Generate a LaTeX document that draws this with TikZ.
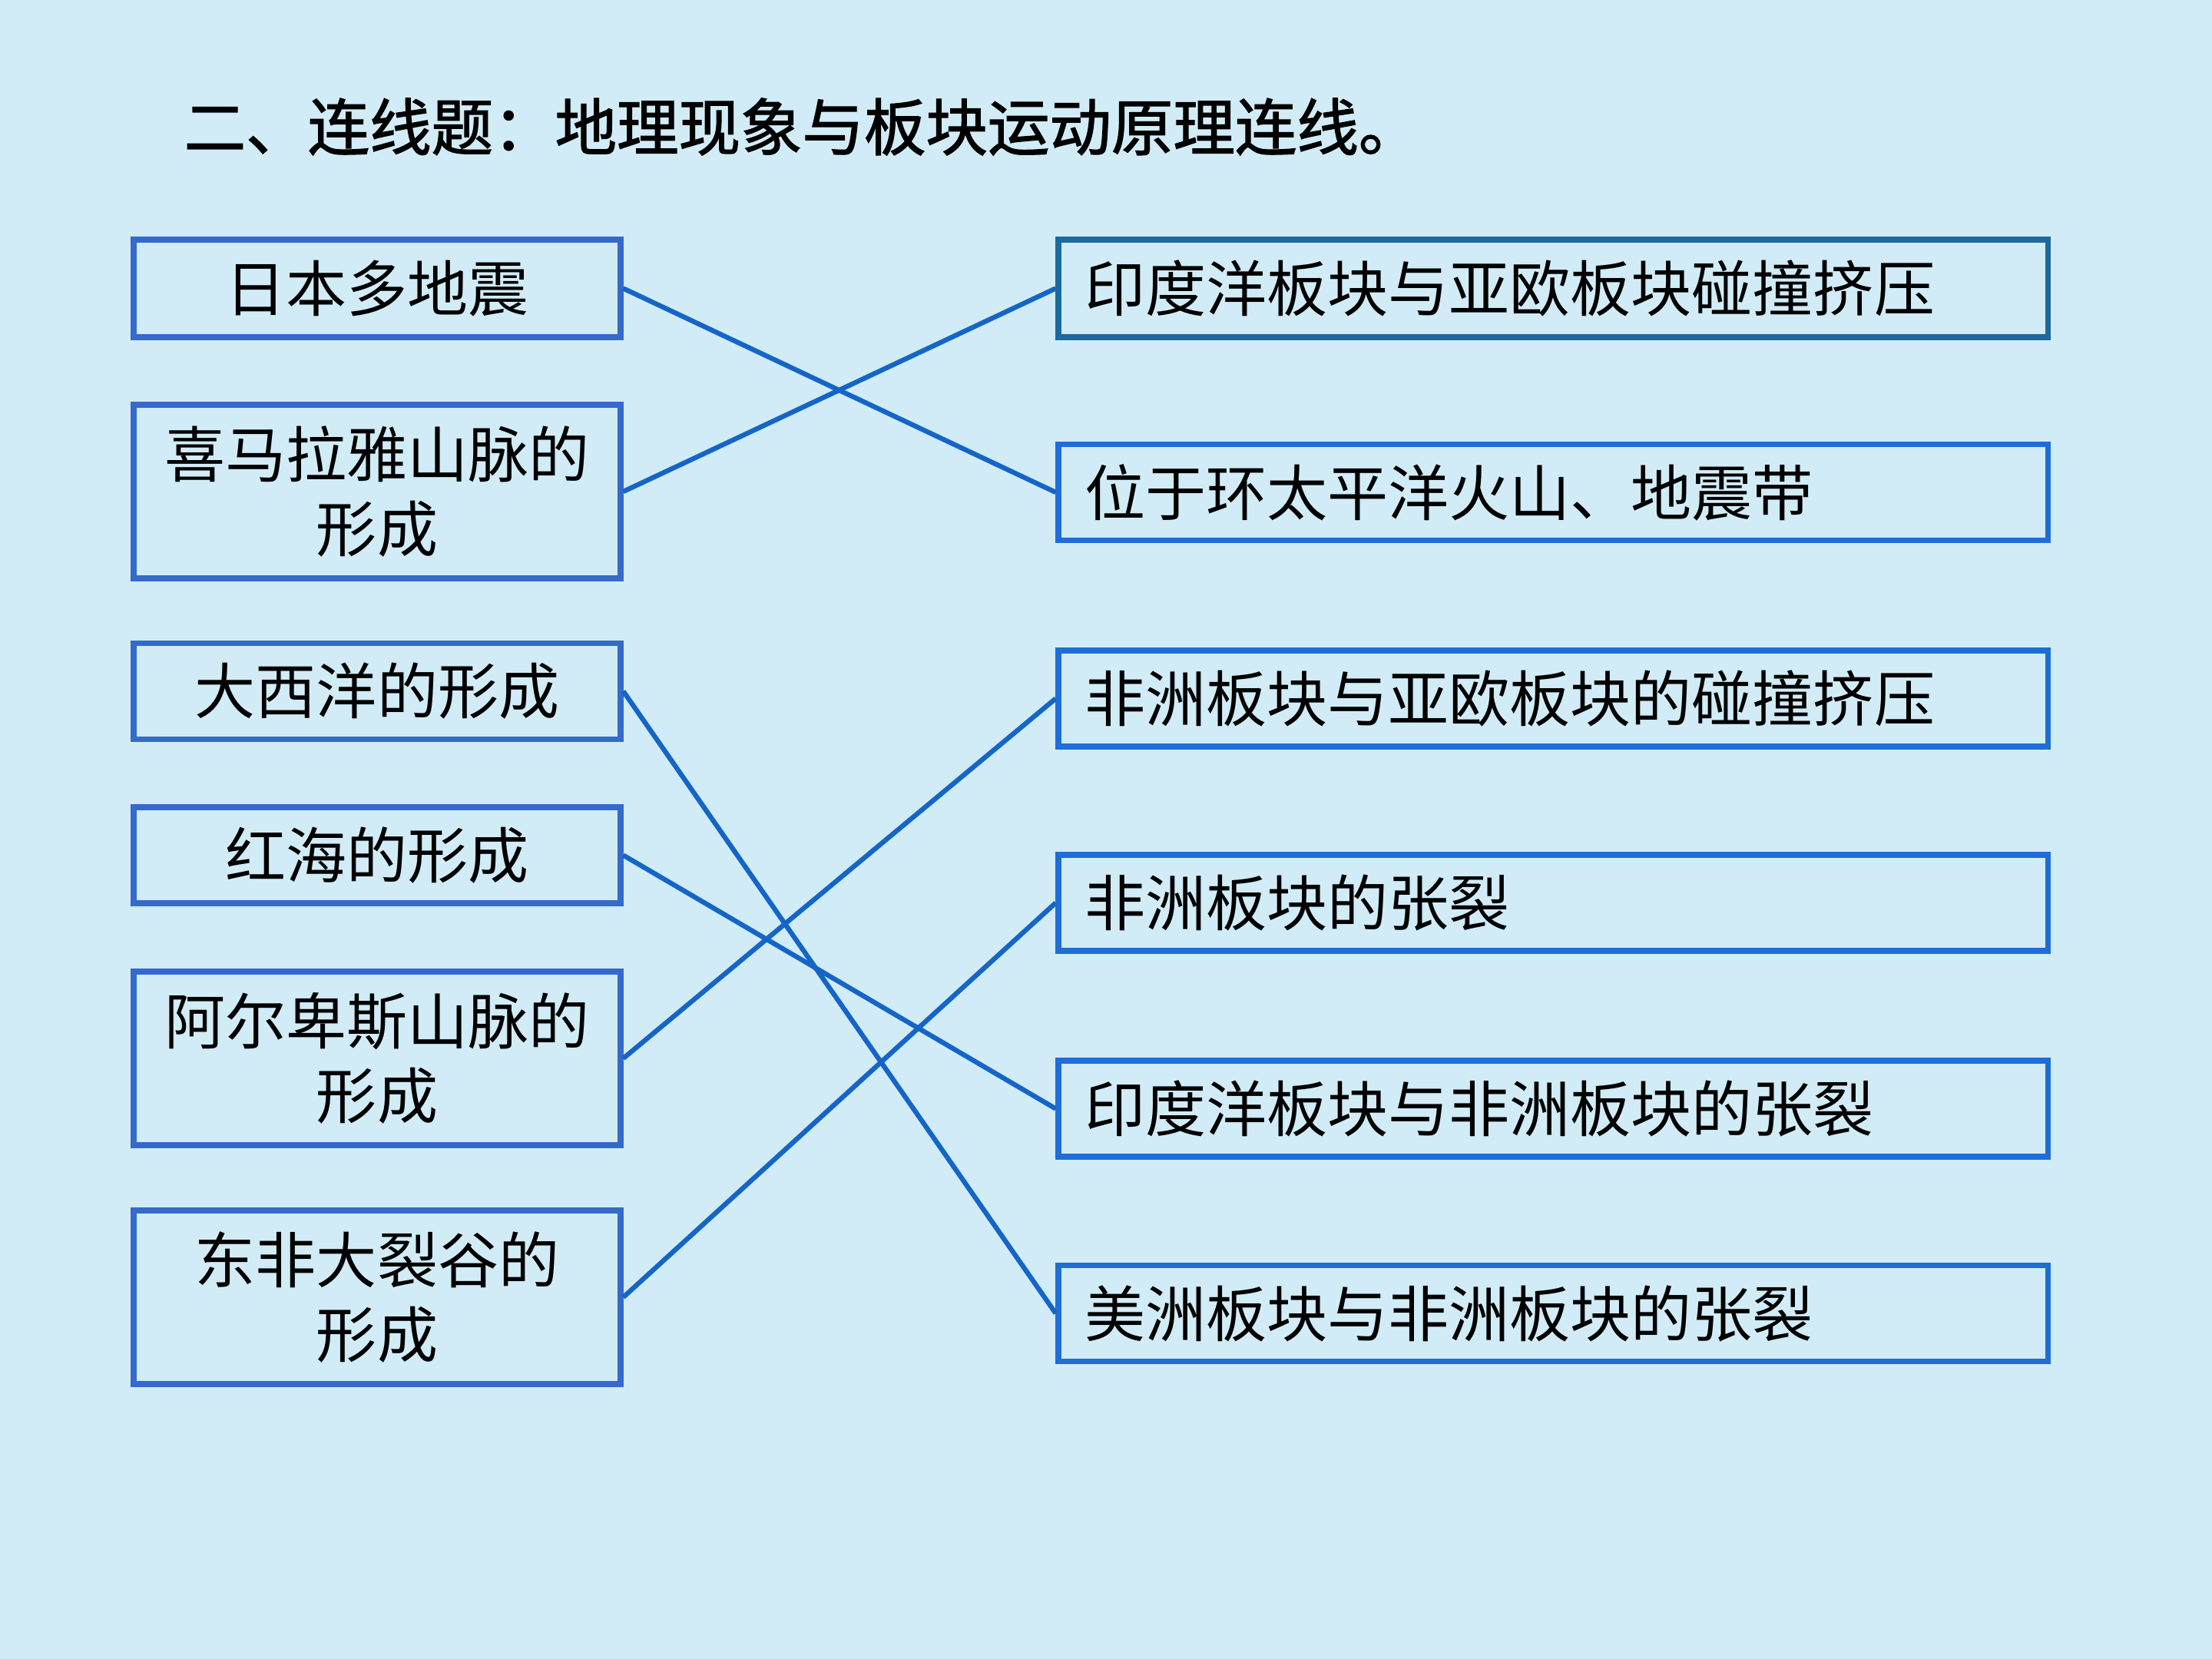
\documentclass[tikz,border=0pt]{standalone}
\usepackage{fontspec}
\usepackage{tikz}
\usetikzlibrary{positioning,calc}
\newfontfamily\cjk{Noto Sans CJK SC}
\newfontfamily\cjktitle[FakeBold=1.6]{Noto Sans CJK SC}
\definecolor{bgBlue}{HTML}{D1ECF6}
\definecolor{boxLeft}{HTML}{3569CC}
\definecolor{boxTeal}{HTML}{1C6A9C}
\definecolor{boxRight}{HTML}{1E6ED6}
\definecolor{linkBlue}{HTML}{1565C8}

\begin{document}
\begin{tikzpicture}[
    leftbox/.style={draw=boxLeft,line width=2pt,minimum width=6.34cm,
      align=center,inner sep=0pt,font=\cjk\fontsize{22.5}{27.6}\selectfont},
    rightbox/.style={draw=boxRight,line width=2pt,minimum height=1.25cm,
      text width=12.2cm,inner xsep=0.34cm,inner ysep=0pt,align=left,
      font=\cjk\fontsize{22.5}{27.6}\selectfont},
    link/.style={linkBlue,line width=1.8pt}]
  \fill[bgBlue] (0,0) rectangle (28.8,-21.6);
  \useasboundingbox (0,0) rectangle (28.8,-21.6);

  % title
  \node[anchor=west,inner sep=0pt,font=\cjktitle\fontsize{22.9}{28}\selectfont]
    (title) at (2.39,-1.65) {二、连线题：地理现象与板块运动原理连线。};

  % phenomena
  \node[leftbox,minimum height=1.27cm] (japan) at (4.91,-3.755) {日本多地震};
  \node[leftbox,minimum height=2.26cm] (himalaya) at (4.91,-6.40) {喜马拉雅山脉的\\形成};
  \node[leftbox,minimum height=1.25cm] (atlantic) at (4.91,-9.00) {大西洋的形成};
  \node[leftbox,minimum height=1.25cm] (redsea) at (4.91,-11.135) {红海的形成};
  \node[leftbox,minimum height=2.26cm] (alps) at (4.91,-13.78) {阿尔卑斯山脉的\\形成};
  \node[leftbox,minimum height=2.26cm] (rift) at (4.91,-16.89) {东非大裂谷的\\形成};

  % principles
  \node[rightbox,draw=boxTeal,minimum height=1.27cm] (indoeur) at (20.22,-3.755) {印度洋板块与亚欧板块碰撞挤压};
  \node[rightbox] (pacific) at (20.22,-6.41) {位于环太平洋火山、地震带};
  \node[rightbox] (afeur) at (20.22,-9.095) {非洲板块与亚欧板块的碰撞挤压};
  \node[rightbox] (afsplit) at (20.22,-11.755) {非洲板块的张裂};
  \node[rightbox] (indoaf) at (20.22,-14.435) {印度洋板块与非洲板块的张裂};
  \node[rightbox] (amaf) at (20.22,-17.10) {美洲板块与非洲板块的张裂};

  \foreach \a/\b in {japan/pacific,himalaya/indoeur,atlantic/amaf,
                     redsea/indoaf,alps/afeur,rift/afsplit}
    \draw[link] (\a.east) -- (\b.west);
\end{tikzpicture}
\end{document}
